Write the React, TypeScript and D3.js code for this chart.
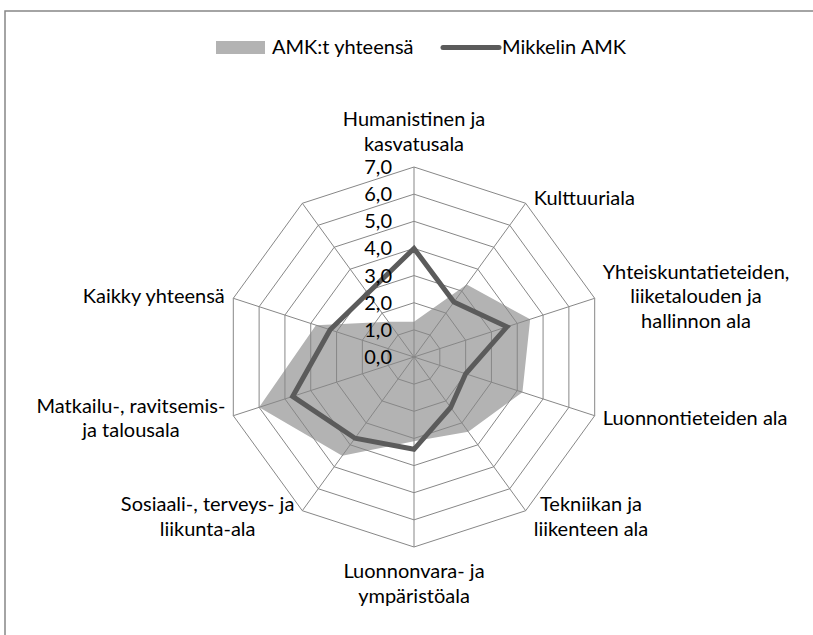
import React from "react";
import * as d3 from "d3";

// category labels (clockwise from the top), "\n" marks a line break
const categories = [
  "Humanistinen ja\nkasvatusala",
  "Kulttuuriala",
  "Yhteiskuntatieteiden,\nliiketalouden ja\nhallinnon ala",
  "Luonnontieteiden ala",
  "Tekniikan ja\nliikenteen ala",
  "Luonnonvara- ja\nympäristöala",
  "Sosiaali-, terveys- ja\nliikunta-ala",
  "Matkailu-, ravitsemis-\nja talousala",
  "Kaikky yhteensä",
  "",
];
const amkYhteensa = [1.3, 3.3, 4.5, 4.2, 3.4, 3.1, 4.5, 6.0, 3.8, 1.6];
const mikkelinAmk = [4.0, 2.5, 3.6, 2.0, 2.3, 3.4, 3.7, 4.7, 3.25, 2.9];
const ticks = [0, 1, 2, 3, 4, 5, 6, 7];
const seriesNames = ["AMK:t yhteensä", "Mikkelin AMK"];

const W = 813;
const H = 635;
const cx = 414;
const cy = 357;
const R = 190;
const FS = 20;
const FONT = "Lato, 'Open Sans', sans-serif";
const LH = 24.5;
const GRID = "#878787";
const FILL = "#b3b3b3";
const DARK = "#5b5b5b";

let ctx: CanvasRenderingContext2D | null = null;
function measure(t: string) {
  if (!ctx) ctx = document.createElement("canvas").getContext("2d");
  if (!ctx) return t.length * FS * 0.5;
  ctx.font = `${FS}px Lato`;
  return ctx.measureText(t).width;
}

const App = () => {
  const n = categories.length;
  const r = d3.scaleLinear().domain([0, 7]).range([0, R]);
  const angle = d3.scaleLinear().domain([0, n]).range([0, 2 * Math.PI]);
  const radial = d3
    .lineRadial<number>()
    .angle((d, i) => angle(i))
    .radius((d) => r(d))
    .curve(d3.curveLinearClosed);
  const pt = (i: number, v: number) => [
    r(v) * Math.sin(angle(i)),
    -r(v) * Math.cos(angle(i)),
  ];

  const labels = categories.map((c, i) => {
    const lines = c ? c.split("\n") : [];
    const [vx, vy] = pt(i, 7);
    const s = Math.sin(angle(i));
    const co = Math.cos(angle(i));
    const bw = Math.max(0, ...lines.map(measure));
    const bh = lines.length * LH;
    let left = vx - bw / 2;
    if (s > 0.1) left = vx + 8;
    else if (s < -0.1) left = vx - 8 - bw;
    let top = vy - bh / 2 - 7 * co;
    if (co > 0.9) top = vy - 11 - bh;
    else if (co < -0.9) top = vy + 12;
    return { lines, x: left + bw / 2, top };
  });

  return (
    <svg
      width={W}
      height={H}
      style={{ position: "absolute", left: 0, top: 0, background: "#fff" }}
      fontFamily={FONT}
      fontSize={FS}
    >
      <path d={`M5,${H}V11H${W}`} fill="none" stroke={GRID} strokeWidth={1.5} />

      {/* legend */}
      <rect x={216} y={41} width={49} height={13} fill={FILL} />
      <text x={272} y={54} fill="#000">{seriesNames[0]}</text>
      <line x1={443} y1={47.5} x2={499} y2={47.5} stroke={DARK} strokeWidth={5} strokeLinecap="round" />
      <text x={502} y={54} fill="#000">{seriesNames[1]}</text>

      <g transform={`translate(${cx},${cy})`}>
        <path d={radial(amkYhteensa) || ""} fill={FILL} stroke="none" />
        {ticks.slice(1).map((t) => (
          <path key={t} d={radial(categories.map(() => t)) || ""} fill="none" stroke={GRID} strokeWidth={1} />
        ))}
        {categories.map((c, i) => {
          const [x, y] = pt(i, 7);
          return <line key={i} x1={0} y1={0} x2={x} y2={y} stroke={GRID} strokeWidth={1} />;
        })}
        <path d={radial(mikkelinAmk) || ""} fill="none" stroke={DARK} strokeWidth={5} strokeLinejoin="miter" />
        {ticks.map((t) => (
          <text key={t} x={-22} y={-r(t)} dy="0.35em" textAnchor="end" fill="#000">
            {d3.format(".1f")(t).replace(".", ",")}
          </text>
        ))}
        {labels.map((l, i) =>
          l.lines.map((line, j) => (
            <text
              key={`${i}-${j}`}
              x={l.x}
              y={l.top + j * LH + LH / 2}
              dy="0.35em"
              textAnchor="middle"
              fill="#000"
            >
              {line}
            </text>
          ))
        )}
      </g>
    </svg>
  );
};

export default App;
